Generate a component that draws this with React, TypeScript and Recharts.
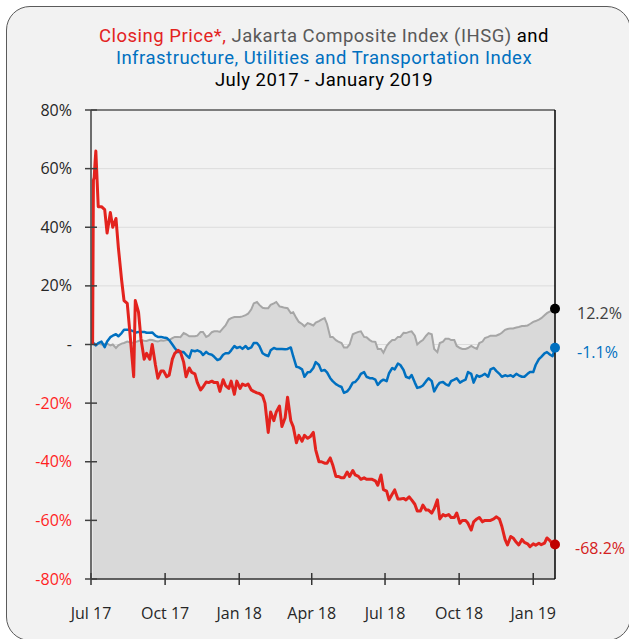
import React from 'react';
import { ComposedChart, Line, Area, XAxis, YAxis, CartesianGrid, ReferenceLine } from 'recharts';

const FONT = "'Open Sans', 'Noto Sans', sans-serif";
const TITLE_FONT = "Roboto, 'Open Sans', sans-serif";

const dates = [
  '2017-07-03', '2017-07-04', '2017-07-05', '2017-07-06', '2017-07-07', '2017-07-10', '2017-07-14',
  '2017-07-18', '2017-07-21', '2017-07-25', '2017-07-28', '2017-08-01', '2017-08-04', '2017-08-08', '2017-08-11',
  '2017-08-15', '2017-08-18', '2017-08-23', '2017-08-25', '2017-08-29', '2017-09-01', '2017-09-05', '2017-09-08',
  '2017-09-12', '2017-09-15', '2017-09-19', '2017-09-22', '2017-09-26', '2017-09-29', '2017-10-03', '2017-10-06',
  '2017-10-10', '2017-10-13', '2017-10-17', '2017-10-20', '2017-10-24', '2017-10-27', '2017-10-31', '2017-11-03',
  '2017-11-07', '2017-11-10', '2017-11-14', '2017-11-17', '2017-11-21', '2017-11-24', '2017-11-28', '2017-12-01',
  '2017-12-05', '2017-12-08', '2017-12-12', '2017-12-15', '2017-12-19', '2017-12-22', '2017-12-26', '2017-12-29',
  '2018-01-02', '2018-01-05', '2018-01-09', '2018-01-12', '2018-01-16', '2018-01-19', '2018-01-23', '2018-01-26',
  '2018-01-30', '2018-02-02', '2018-02-06', '2018-02-09', '2018-02-13', '2018-02-16', '2018-02-20', '2018-02-23',
  '2018-02-27', '2018-03-02', '2018-03-06', '2018-03-09', '2018-03-13', '2018-03-16', '2018-03-20', '2018-03-23',
  '2018-03-27', '2018-03-30', '2018-04-03', '2018-04-06', '2018-04-10', '2018-04-13', '2018-04-17', '2018-04-20',
  '2018-04-24', '2018-04-27', '2018-05-01', '2018-05-04', '2018-05-08', '2018-05-11', '2018-05-15', '2018-05-18',
  '2018-05-22', '2018-05-25', '2018-05-29', '2018-06-01', '2018-06-05', '2018-06-08', '2018-06-12', '2018-06-15',
  '2018-06-19', '2018-06-22', '2018-06-26', '2018-06-29', '2018-07-03', '2018-07-06', '2018-07-10', '2018-07-13',
  '2018-07-17', '2018-07-20', '2018-07-24', '2018-07-27', '2018-07-31', '2018-08-03', '2018-08-07', '2018-08-10',
  '2018-08-14', '2018-08-17', '2018-08-21', '2018-08-24', '2018-08-28', '2018-08-31', '2018-09-04', '2018-09-07',
  '2018-09-11', '2018-09-14', '2018-09-18', '2018-09-21', '2018-09-25', '2018-09-28', '2018-10-02', '2018-10-05',
  '2018-10-09', '2018-10-12', '2018-10-16', '2018-10-19', '2018-10-23', '2018-10-26', '2018-10-30', '2018-11-02',
  '2018-11-06', '2018-11-09', '2018-11-13', '2018-11-16', '2018-11-20', '2018-11-23', '2018-11-27', '2018-11-30',
  '2018-12-04', '2018-12-07', '2018-12-11', '2018-12-14', '2018-12-18', '2018-12-21', '2018-12-25', '2018-12-28',
  '2019-01-01', '2019-01-04', '2019-01-08', '2019-01-11', '2019-01-15', '2019-01-18', '2019-01-22', '2019-01-25',
  '2019-01-28',
];

const closingPrice = [
  0, 56, 57, 62, 66, 47, 47,
  46, 38, 45, 40, 43, 33, 22, 15,
  14, 5, -11, 15, 11, 2, -5, -3,
  -5, 0, -7, -11.5, -9, -9, -11, -10.5,
  -5, -3, -2, -2.5, -6, -11, -8, -9.5,
  -10, -13, -15.5, -14.5, -12.8, -13, -12.5, -13,
  -13, -16, -12, -14, -15, -12.5, -17, -12.5,
  -15, -13.5, -14, -13.5, -15.5, -16, -16.5, -16.7,
  -17.5, -20, -30, -23, -26, -23, -21, -28,
  -25, -18, -26, -28, -33.5, -31, -33, -31,
  -32, -31.5, -30, -36, -40, -40, -40.5, -40.5,
  -38.7, -41, -45, -45, -45.5, -45.5, -43.5, -45,
  -43, -44.5, -45, -46, -45.5, -46, -46, -46,
  -46.5, -48, -44.5, -49.5, -50, -53, -51, -49.6,
  -52.7, -52.7, -52.5, -53, -52, -53, -54.5, -56.8,
  -56.8, -54.8, -56.5, -56.5, -57.5, -56, -53, -59.5,
  -58, -58.5, -58, -59, -59, -57.5, -61, -60,
  -60, -61, -63.3, -60.5, -59.5, -59, -60.5, -60,
  -60, -60, -59.5, -58.8, -59.5, -62, -66.5, -68.4,
  -65.5, -66, -67.5, -68.4, -66.5, -67.5, -68, -69,
  -68, -68.5, -67.8, -68.3, -67.8, -66, -67, -68.2,
  -68.2,
];

const ihsg = [
  0, 0.3, 0, 0.2, -0.2, 0.3, 0,
  0.2, 0.3, -0.3, 0, -1.2, -0.3, 0.3, 0.5,
  1, 0.8, 0.5, 0.8, 1.2, 1.5, 1.3, 1.2,
  1.6, 1.5, 1.2, 1, 1.4, 1.3, 1.5, 1.5,
  2.2, 2.6, 2.6, 2.5, 3.9, 3.5, 2.8, 2.8,
  2.8, 3, 4.3, 4.3, 2.6, 3, 4.2, 4.5,
  4.5, 4.3, 5.6, 6.5, 8.5, 9, 9.4, 9.4,
  9.4, 9.6, 10, 10.5, 12, 14, 14.5, 13.5,
  12.5, 12.4, 12.4, 13.5, 14, 14.5, 13, 12.8,
  12.5, 12.4, 10.7, 11, 9, 7.7, 7, 6.2,
  7.3, 7, 6.5, 7.5, 8, 8.5, 9, 7,
  2.6, 2.6, 1.5, 1, 0.5, -1, -1, 0,
  3.5, 3.9, 4.3, 4.5, 2.6, 2.5, 1.5, 1,
  0.9, -1.5, -1.5, -2.8, -0.5, 0.5, 1.5, 1.5,
  2.6, 2.6, 4, 3.9, 4.3, 4.5, 3, 0,
  1, 1.5, 3, 3.9, 3.5, -1.5, -2.6, 0.5,
  1, 2, 2, 1.5, 1.5, -0.5, -1.2, -1.5,
  -1.5, -1.2, -0.5, -1, -1.5, 0.5, 1, 2.2,
  2.6, 3, 3, 3, 3.5, 4, 5, 5.3,
  5.5, 5.5, 5.8, 6, 6.3, 6.3, 6.5, 7,
  7.7, 8, 8.5, 9, 10, 10.7, 11.3, 11.8,
  12.2,
];

const infrastructure = [
  0, 0.5, 0.2, 0, -0.3, 0.5, 1,
  -0.9, 1, 2.5, 3, 3.5, 2.8, 3.9, 5,
  5, 5, 4.5, 4, 4.3, 4.3, 4.3, 4,
  4, 4.1, 3, 2.6, 2.6, 2.4, 2.2, 1.5,
  0, -1.2, -2.6, -2.6, -2.6, -3.5, -4.6, -2,
  -2.3, -2, -2.5, -3.6, -2.5, -3.2, -3.5, -4.2,
  -5.3, -5, -3.5, -3, -3, -2, -0.5, -1.2,
  -0.8, -1.5, -0.5, -1.5, -1, 0.5, 0.5, -0.5,
  -3, -3.5, -4, -2, -1.2, -1.5, -1.5, -1.5,
  -1.6, -1.5, -1, -4, -7.6, -7.8, -8.5, -11,
  -9.5, -9.4, -8, -6, -7, -9, -8.7, -9.5,
  -11.5, -12.5, -13.5, -14, -14.5, -16.5, -16, -15,
  -13, -12.8, -11.5, -10, -9.4, -11, -11.5, -11.5,
  -12, -13.8, -12.5, -12, -12.5, -9.8, -8, -8.5,
  -6.5, -7, -8.7, -11, -11.5, -10.4, -13, -14.8,
  -14.5, -14, -12.5, -11.5, -12.5, -16, -14, -13,
  -12.8, -13.5, -14, -12.5, -12, -11.5, -13, -12.5,
  -12, -9.4, -10, -13, -10.5, -11, -10.5, -10,
  -11, -8.5, -8, -9, -10, -11, -10.5, -10.8,
  -10.5, -11, -10, -10.5, -11, -11, -10, -9.4,
  -9.4, -7, -5, -4.2, -3, -2.6, -3.5, -4,
  -1.1,
];

const xTickDates = ['2017-07-01', '2017-10-01', '2018-01-01', '2018-04-01', '2018-07-01', '2018-10-01', '2019-01-01'];
const xTickLabels = ['Jul 17', 'Oct 17', 'Jan 18', 'Apr 18', 'Jul 18', 'Oct 18', 'Jan 19'];
const yTicks = [-80, -60, -40, -20, 0, 20, 40, 60, 80];
const yTickLabels = ['-80%', '-60%', '-40%', '-20%', '-', '20%', '40%', '60%', '80%'];
const domainDates = ['2017-07-01', '2019-01-28'];

const data = dates.map((d, i) => ({
  t: Date.parse(d),
  price: closingPrice[i],
  ihsg: ihsg[i],
  infra: infrastructure[i],
}));

const xTicks = xTickDates.map((d) => Date.parse(d));
const xDomain = domainDates.map((d) => Date.parse(d));

const YTick = (props: any) => {
  const { x, y, payload } = props;
  const v = payload.value;
  const idx = yTicks.indexOf(v);
  return (
    <text x={x} y={y} dy="0.35em" textAnchor="end" fontSize={16} fontFamily={FONT} fill={v < 0 ? '#ff1f1f' : '#262626'}>
      {yTickLabels[idx]}
    </text>
  );
};

const XTick = (props: any) => {
  const { x, y, payload } = props;
  const idx = xTicks.indexOf(payload.value);
  return (
    <text x={x} y={y} dy="0.71em" textAnchor="middle" fontSize={16} fontFamily={FONT} fill="#262626">
      {xTickLabels[idx]}
    </text>
  );
};

const NoTick = () => <g />;

const makeEndDot = (key: string, fill: string, labelColor: string, dx: number) => (props: any) => {
  const { cx, cy, index } = props;
  if (index !== data.length - 1) return <g key={`${key}-${index}`} />;
  const v = (data[index] as any)[key];
  return (
    <g key={`${key}-${index}`}>
      <circle cx={cx} cy={cy} r={5} fill={fill} />
      <text x={cx + dx} y={cy + 4} dominantBaseline="central" fontSize={16} fontFamily={FONT} fill={labelColor}>
        {v.toFixed(1)}%
      </text>
    </g>
  );
};

export default function App() {
  return (
    <div style={{ position: 'fixed', left: 0, top: 0, width: 629, height: 639, overflow: 'hidden', background: '#ffffff' }}>
      <div
        style={{
          position: 'absolute', left: 6, top: 6, width: 625, height: 635, boxSizing: 'border-box',
          border: '1.5px solid #5a5a5a', borderRadius: 24, background: '#f2f2f2',
        }}
      />
      <div
        style={{
          position: 'absolute', left: 0, top: 25, width: 648, textAlign: 'center',
          fontFamily: TITLE_FONT, fontSize: 18.5, letterSpacing: '0.5px', lineHeight: '22px', color: '#000',
        }}
      >
        <div>
          <span style={{ color: '#e3231e' }}>Closing Price*, </span>
          <span style={{ color: '#595959' }}>Jakarta Composite Index (IHSG) </span>
          <span style={{ color: '#000' }}>and</span>
        </div>
        <div style={{ color: '#0070c0' }}>Infrastructure, Utilities and Transportation Index</div>
        <div>July 2017 - January 2019</div>
      </div>
      <div style={{ position: 'absolute', left: 6, top: 6 }}>
        <ComposedChart width={622} height={632} data={data} margin={{ top: 104, right: 63, bottom: 19, left: 25 }}>
          <CartesianGrid horizontal vertical={false} stroke="#dcdcdc" strokeWidth={1} />
          <XAxis
            dataKey="t"
            type="number"
            domain={xDomain}
            ticks={xTicks}
            interval={0}
            height={40}
            tick={<XTick />}
            tickSize={12}
            tickMargin={17}
            axisLine={{ stroke: '#333333', strokeWidth: 1.5 }}
            tickLine={{ stroke: '#333333', strokeWidth: 1.5, transform: 'translate(0,-6)' }}
          />
          <YAxis
            type="number"
            domain={[-80, 80]}
            ticks={yTicks}
            interval={0}
            width={60}
            tick={<YTick />}
            tickSize={12}
            tickMargin={7}
            axisLine={{ stroke: '#404040', strokeWidth: 1.5 }}
            tickLine={{ stroke: '#404040', strokeWidth: 1.5, transform: 'translate(6,0)' }}
          />
          <YAxis
            yAxisId="right"
            orientation="right"
            type="number"
            domain={[-80, 80]}
            ticks={yTicks}
            interval={0}
            width={10}
            tick={<NoTick />}
            tickSize={12}
            axisLine={{ stroke: '#000000', strokeWidth: 1.5 }}
            tickLine={{ stroke: '#000000', strokeWidth: 1.5, transform: 'translate(-6,0)' }}
          />
          <Area
            type="linear"
            dataKey="ihsg"
            baseValue={-80}
            fill="#d9d9d9"
            fillOpacity={1}
            stroke="#a6a6a6"
            strokeWidth={2}
            isAnimationActive={false}
            dot={makeEndDot('ihsg', '#000000', '#404040', 22)}
            activeDot={false}
          />
          <ReferenceLine y={80} stroke="#5a5a5a" strokeWidth={1.5} />
          <Line
            type="linear"
            dataKey="infra"
            stroke="#0070c0"
            strokeWidth={2.5}
            strokeLinejoin="round"
            isAnimationActive={false}
            dot={makeEndDot('infra', '#0070c0', '#0070c0', 22)}
            activeDot={false}
          />
          <Line
            type="linear"
            dataKey="price"
            stroke="#e3231e"
            strokeWidth={3}
            strokeLinejoin="round"
            isAnimationActive={false}
            dot={makeEndDot('price', '#c00000', '#d42020', 20)}
            activeDot={false}
          />
        </ComposedChart>
      </div>
    </div>
  );
}
